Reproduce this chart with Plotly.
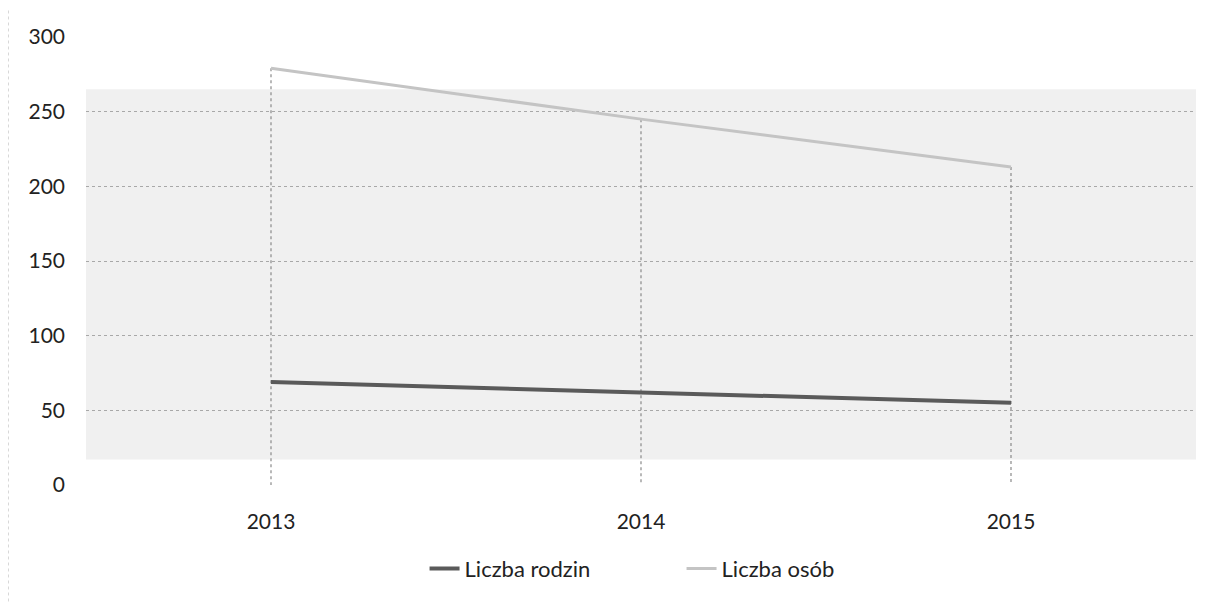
import plotly.graph_objects as go

years = ['2013', '2014', '2015']
rodziny = [69, 62, 55]
osoby = [279, 245, 213]

font_name = 'Lato, Open Sans, sans-serif'

fig = go.Figure()

# linie opadające od serii "Liczba osób" do osi
drop_x = []
drop_y = []
for yr, val in zip(years, osoby):
    drop_x += [yr, yr, None]
    drop_y += [val, 0, None]
fig.add_trace(go.Scatter(
    x=drop_x,
    y=drop_y,
    mode='lines',
    line=dict(color='#8a8a8a', width=1.2, dash='dot'),
    showlegend=False,
    hoverinfo='skip'
))

fig.add_trace(go.Scatter(
    x=years,
    y=rodziny,
    mode='lines',
    line=dict(color='#5a5a5a', width=4),
    name='Liczba rodzin'
))
fig.add_trace(go.Scatter(
    x=years,
    y=osoby,
    mode='lines',
    line=dict(color='#c4c4c4', width=3),
    name='Liczba osób'
))

# szare tło skanu w obszarze wykresu
fig.add_shape(
    type='rect', xref='paper', yref='y',
    x0=0, x1=1, y0=17, y1=265,
    fillcolor='#f0f0f0', line=dict(width=0), layer='below'
)
# kropkowana ramka po lewej stronie
fig.add_shape(
    type='line', xref='paper', yref='paper',
    x0=-0.0703, x1=-0.0703, y0=-0.26, y1=1.06,
    line=dict(color='#aaaaaa', width=1, dash='dot')
)

fig.update_layout(
    width=1207,
    height=594,
    margin=dict(l=78, r=19, t=29, b=108),
    paper_bgcolor='white',
    plot_bgcolor='white',
    font=dict(family=font_name, size=20, color='#222222'),
    xaxis=dict(
        type='category',
        range=[-0.5, 2.5],
        showgrid=False,
        showline=False,
        zeroline=False,
        ticks='',
        ticklabelstandoff=22,
        tickfont=dict(size=21)
    ),
    yaxis=dict(
        range=[0, 300],
        tickvals=[0, 50, 100, 150, 200, 250, 300],
        showgrid=True,
        gridcolor='#a8a8a8',
        griddash='dot',
        gridwidth=1,
        zeroline=False,
        showline=False,
        ticks='',
        ticklabelstandoff=20,
        tickfont=dict(size=21)
    ),
    legend=dict(
        orientation='h',
        x=0.305,
        xanchor='left',
        y=-0.187,
        yanchor='middle',
        entrywidth=212,
        font=dict(size=22)
    )
)

fig.write_html("out.html")
